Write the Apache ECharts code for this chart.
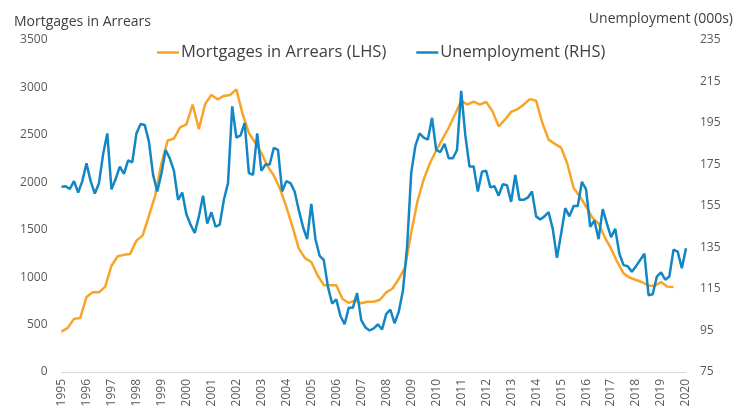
<!DOCTYPE html>
<html>
<head>
<meta charset="utf-8">
<script src="https://cdn.jsdelivr.net/npm/echarts@6/dist/echarts.min.js"></script>
<style>html,body{margin:0;padding:0;background:#fff}#c{width:738px;height:410px}</style>
</head>
<body>
<div id="c"></div>
<script>
// Mortgages in arrears (LHS), quarterly from 1995 Q1
const arrearsStartYear = 1995;
const arrears = [
  425, 465, 560, 570, 790, 840, 840, 900, 1120, 1220, 1235, 1245, 1385, 1440, 1645, 1860,
  2200, 2440, 2460, 2580, 2610, 2820, 2560, 2825, 2920, 2875, 2910, 2920, 2980, 2720, 2520, 2420,
  2310, 2170, 2070, 1930, 1740, 1530, 1300, 1200, 1160, 1020, 915, 915, 915, 770, 728, 755,
  724, 741, 741, 762, 840, 880, 980, 1100, 1470, 1800, 2030, 2200, 2335, 2455, 2575, 2715,
  2857, 2820, 2850, 2818, 2848, 2750, 2590, 2660, 2742, 2770, 2818, 2877, 2860, 2625, 2450, 2405,
  2365, 2195, 1940, 1850, 1745, 1628, 1565, 1420, 1300, 1160, 1040, 995, 970, 946, 910, 910,
  948, 900, 895
];
// Unemployment (000s, RHS), every two months from Jan 1995
const unempStartYear = 1995;
const unemployment = [
  164.3, 164.5, 163.2, 167.0, 161.5, 167.0, 175.6, 167.0, 161.0, 166.0,
  180.0, 190.0, 163.0, 168.0, 174.0, 170.5, 177.0, 176.0, 190.0, 194.5,
  194.0, 186.0, 170.0, 162.0, 170.5, 182.0, 178.0, 172.0, 158.0, 161.5,
  151.0, 146.0, 142.0, 150.0, 160.0, 146.5, 152.0, 145.0, 146.0, 158.0,
  166.0, 203.0, 188.0, 189.0, 195.0, 171.0, 170.0, 190.0, 172.0, 175.0,
  175.0, 183.0, 182.0, 162.0, 167.0, 166.0, 162.0, 153.0, 145.0, 139.0,
  156.0, 139.0, 131.0, 129.0, 116.0, 108.0, 110.0, 102.0, 98.0, 106.0,
  106.0, 113.0, 100.0, 96.5, 95.0, 96.0, 98.0, 95.5, 103.0, 105.0,
  98.5, 104.0, 114.0, 135.0, 171.0, 184.0, 190.0, 188.0, 187.0, 197.5,
  182.0, 181.0, 185.0, 178.0, 178.0, 182.0, 210.5, 189.0, 174.0, 174.0,
  162.0, 171.5, 172.0, 164.0, 164.5, 160.0, 165.5, 165.0, 157.0, 170.0,
  158.0, 158.0, 159.0, 162.0, 150.0, 148.5, 150.0, 152.0, 144.0, 130.0,
  141.5, 154.0, 150.0, 155.0, 155.0, 166.7, 163.0, 145.0, 148.0, 139.0,
  153.5, 146.5, 140.0, 144.0, 132.0, 126.5, 126.0, 123.3, 126.0, 129.0,
  132.0, 112.0, 112.5, 121.0, 123.0, 119.5, 121.0, 134.0, 133.0, 125.0,
  134.6
];
const leftTicks = {min: 0, max: 3500, step: 500};
const rightTicks = {min: 75, max: 235, step: 20};
const yearRange = {min: 1995, max: 2020, step: 1};
const seriesNames = ['Mortgages in Arrears (LHS)', 'Unemployment (RHS)'];
const axisTitles = ['Mortgages in Arrears', 'Unemployment (000s)'];

const arrearsData = arrears.map((v, i) => [arrearsStartYear + i / 4, v]);
const unempData = unemployment.map((v, i) => [unempStartYear + i / 6, v]);

const FONT = '"Open Sans", "Noto Sans", sans-serif';
const chart = echarts.init(document.getElementById('c'), null, {renderer: 'canvas'});
chart.setOption({
  animation: false,
  backgroundColor: '#ffffff',
  title: [
    {text: axisTitles[0], left: 9, top: 10, textStyle: {fontFamily: FONT, fontSize: 14, fontWeight: 'normal', color: '#404040'}},
    {text: axisTitles[1], right: 0, top: 7, textStyle: {fontFamily: FONT, fontSize: 14, fontWeight: 'normal', color: '#404040'}}
  ],
  legend: {
    left: 152, top: 39,
    icon: 'rect', itemWidth: 22, itemHeight: 2.5, itemGap: 30,
    textStyle: {fontFamily: FONT, fontSize: 16.5, color: '#404040', padding: [0, 0, 0, -3]},
    data: seriesNames
  },
  grid: {left: 61.5, right: 52, top: 40, bottom: 38},
  xAxis: {
    type: 'value', min: yearRange.min, max: yearRange.max, interval: yearRange.step,
    axisLine: {show: true, lineStyle: {color: '#d9d9d9', width: 1}},
    axisTick: {show: false},
    splitLine: {show: false},
    axisLabel: {rotate: 90, margin: 7, fontFamily: FONT, fontSize: 12, color: '#595959', formatter: v => String(v)}
  },
  yAxis: [
    {
      type: 'value', min: leftTicks.min, max: leftTicks.max, interval: leftTicks.step,
      axisLine: {show: false}, axisTick: {show: false}, splitLine: {show: false},
      axisLabel: {margin: 14, fontFamily: FONT, fontSize: 12, color: '#595959', formatter: v => String(v)}
    },
    {
      type: 'value', min: rightTicks.min, max: rightTicks.max, interval: rightTicks.step,
      axisLine: {show: false}, axisTick: {show: false}, splitLine: {show: false},
      axisLabel: {margin: 14, fontFamily: FONT, fontSize: 12, color: '#595959', formatter: v => String(v)}
    }
  ],
  series: [
    {
      name: seriesNames[0], type: 'line', yAxisIndex: 0, data: arrearsData,
      showSymbol: false, symbol: 'none', smooth: false,
      lineStyle: {color: '#F7A428', width: 2.5}, itemStyle: {color: '#F7A428'}, z: 2
    },
    {
      name: seriesNames[1], type: 'line', yAxisIndex: 1, data: unempData,
      showSymbol: false, symbol: 'none', smooth: false,
      lineStyle: {color: '#1386C4', width: 2.5}, itemStyle: {color: '#1386C4'}, z: 3
    }
  ]
});
</script>
</body>
</html>
